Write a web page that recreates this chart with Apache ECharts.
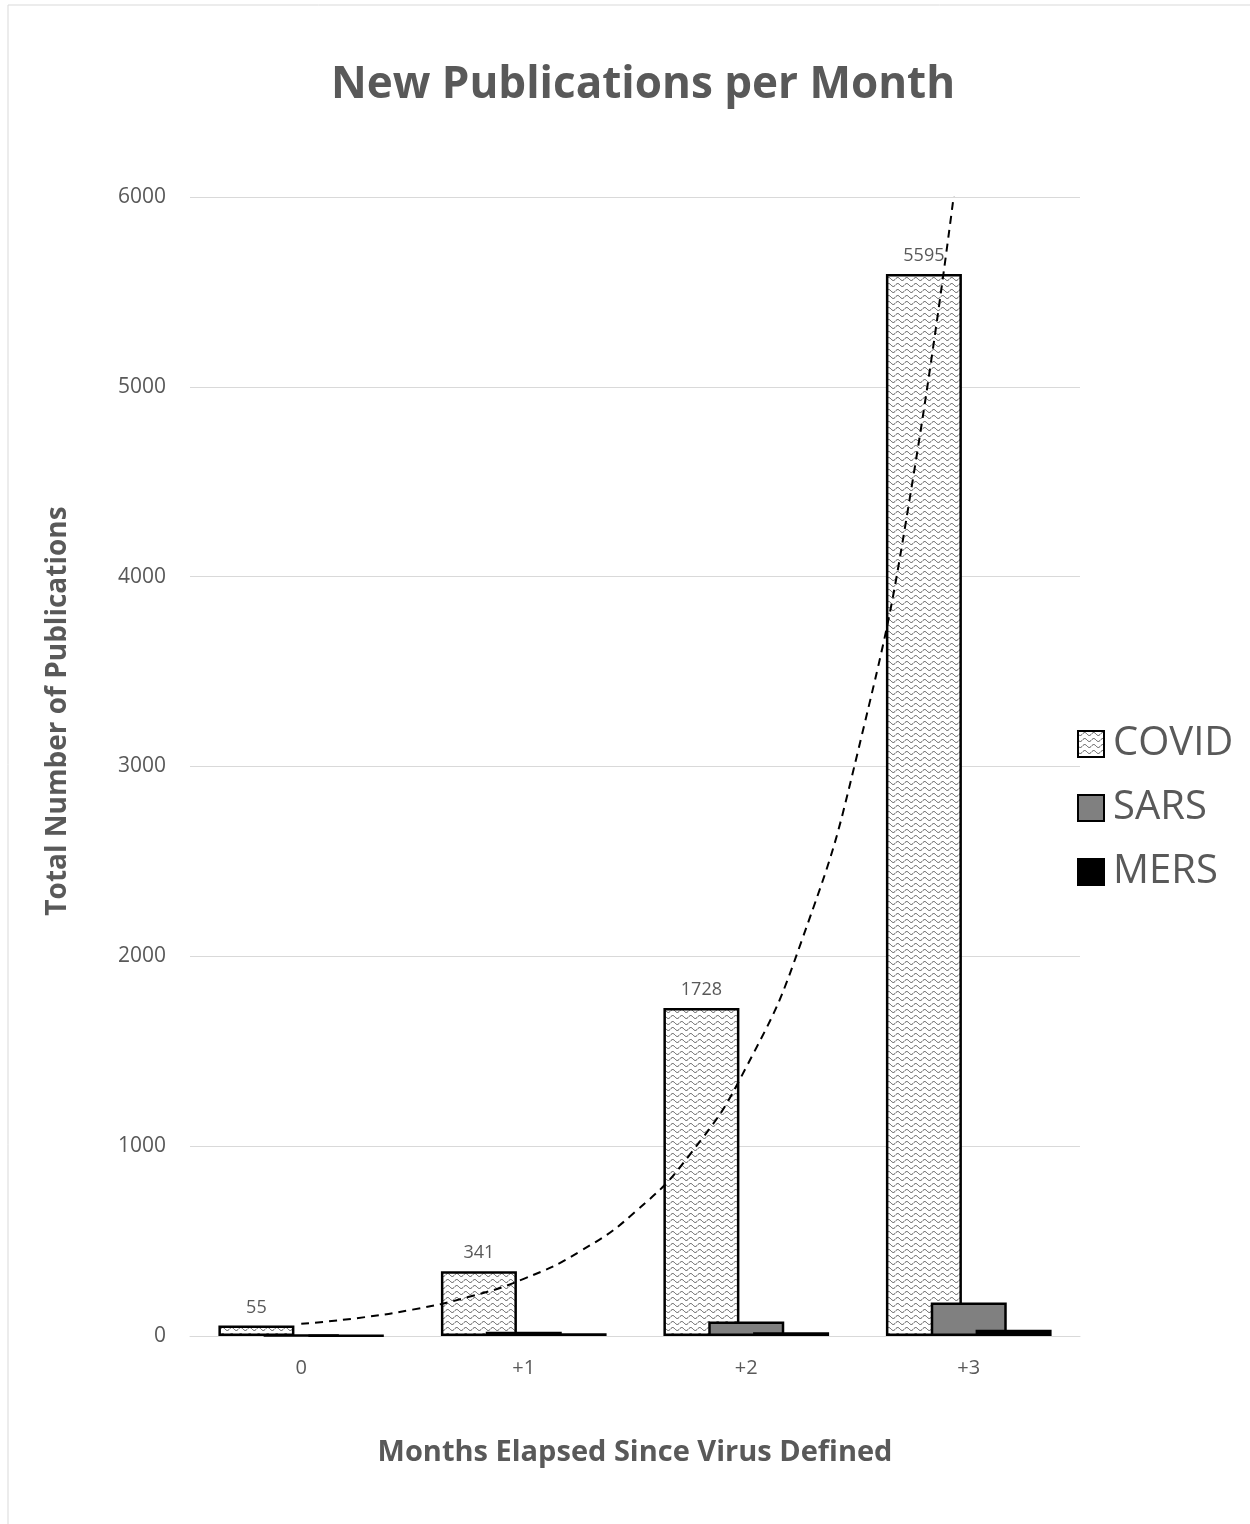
<!DOCTYPE html>
<html>
<head>
<meta charset="utf-8">
<script src="https://cdn.jsdelivr.net/npm/echarts@6/dist/echarts.min.js"></script>
<style>
  html, body { margin: 0; padding: 0; background: #fff; }
  #chart { width: 1250px; height: 1524px; }
</style>
</head>
<body>
<div id="chart"></div>
<script>
const months = ['0', '+1', '+2', '+3'];
const covid = [55, 341, 1728, 5595];
const sars = [4, 22, 77, 176];
const mers = [3, 14, 20, 33];

// dashed trend line (x = month index)
const trendX = [0, 0.25, 0.5, 0.75, 1, 1.25, 1.5, 1.75, 2, 2.25, 2.5, 2.75, 3];
const trendY = [64, 94, 139, 205, 301, 444, 653, 961, 1416, 2085, 3070, 4521, 6657];

const textGrey = '#595959';
const fontFam = '"Open Sans", "DejaVu Sans", sans-serif';

// wavy fill used by the COVID bars
function wavePattern() {
  const c = document.createElement('canvas');
  c.width = 9;
  c.height = 6;
  const ctx = c.getContext('2d');
  ctx.fillStyle = '#fff';
  ctx.fillRect(0, 0, 9, 6);
  ctx.strokeStyle = '#555';
  ctx.lineWidth = 1;
  ctx.beginPath();
  for (let x = 0; x <= 9; x += 0.5) {
    const y = 3 + 1.5 * Math.sin((2 * Math.PI * x) / 9);
    if (x === 0) ctx.moveTo(x, y);
    else ctx.lineTo(x, y);
  }
  ctx.stroke();
  return c;
}

const chart = echarts.init(document.getElementById('chart'));

chart.setOption({
  backgroundColor: '#fff',
  animation: false,
  title: {
    text: 'New Publications per Month',
    left: 638,
    textAlign: 'center',
    top: 58,
    textStyle: { fontFamily: fontFam, fontSize: 44, fontWeight: 'bold', color: textGrey },
  },
  graphic: [
    { type: 'line', shape: { x1: 8, y1: 5, x2: 1250, y2: 5 }, style: { stroke: '#d9d9d9', lineWidth: 1 } },
    { type: 'line', shape: { x1: 8, y1: 5, x2: 8, y2: 1524 }, style: { stroke: '#d9d9d9', lineWidth: 1 } },
    {
      // y axis title sits a bit above the plot centre in the reference
      type: 'text',
      x: 58,
      y: 711,
      rotation: Math.PI / 2,
      style: {
        text: 'Total Number of Publications',
        fontFamily: fontFam,
        fontSize: 28,
        fontWeight: 'bold',
        fill: textGrey,
        textAlign: 'center',
        textVerticalAlign: 'middle',
      },
    },
  ],
  legend: {
    orient: 'vertical',
    left: 1072,
    top: 719,
    icon: 'rect',
    itemWidth: 26,
    itemHeight: 26,
    itemGap: 24,
    data: ['COVID', 'SARS', 'MERS'],
    textStyle: { fontFamily: fontFam, fontSize: 40, color: textGrey, padding: [0, 0, 0, 4] },
  },
  grid: { left: 190, right: 170, top: 197, bottom: 188 },
  xAxis: [
    {
      type: 'category',
      data: months,
      name: 'Months Elapsed Since Virus Defined',
      nameLocation: 'middle',
      nameGap: 102,
      nameTextStyle: { fontFamily: fontFam, fontSize: 29, fontWeight: 'bold', color: textGrey },
      axisLine: { lineStyle: { color: '#d9d9d9', width: 1 } },
      axisTick: { show: false },
      axisLabel: { fontFamily: fontFam, fontSize: 20, color: textGrey, margin: 22 },
    },
    { type: 'value', min: -0.5, max: 3.5, show: false },
  ],
  yAxis: {
    type: 'value',
    min: 0,
    max: 6000,
    interval: 1000,
    axisLine: { show: false },
    axisTick: { show: false },
    axisLabel: {
      fontFamily: fontFam,
      fontSize: 21,
      color: textGrey,
      margin: 24,
      formatter: (v) => String(v),
    },
    splitLine: { lineStyle: { color: '#d9d9d9', width: 1 } },
  },
  series: [
    {
      name: 'COVID',
      type: 'bar',
      data: covid,
      barWidth: 76,
      barGap: '-41%',
      itemStyle: {
        color: { image: wavePattern(), repeat: 'repeat' },
        borderColor: '#000',
        borderWidth: 2.5,
      },
      label: {
        show: true,
        position: 'top',
        distance: 9,
        fontFamily: fontFam,
        fontSize: 18,
        color: textGrey,
      },
    },
    {
      name: 'SARS',
      type: 'bar',
      data: sars,
      barWidth: 76,
      barGap: '-41%',
      itemStyle: { color: '#808080', borderColor: '#000', borderWidth: 2.5 },
    },
    {
      name: 'MERS',
      type: 'bar',
      data: mers,
      barWidth: 76,
      barGap: '-41%',
      itemStyle: { color: '#000', borderColor: '#000', borderWidth: 2.5 },
    },
    {
      name: 'trend',
      type: 'line',
      xAxisIndex: 1,
      data: trendX.map((x, i) => [x, trendY[i]]),
      smooth: true,
      symbol: 'none',
      clip: true,
      lineStyle: { color: '#000', width: 2, type: [8, 6] },
      z: 5,
    },
  ],
});
</script>
</body>
</html>
